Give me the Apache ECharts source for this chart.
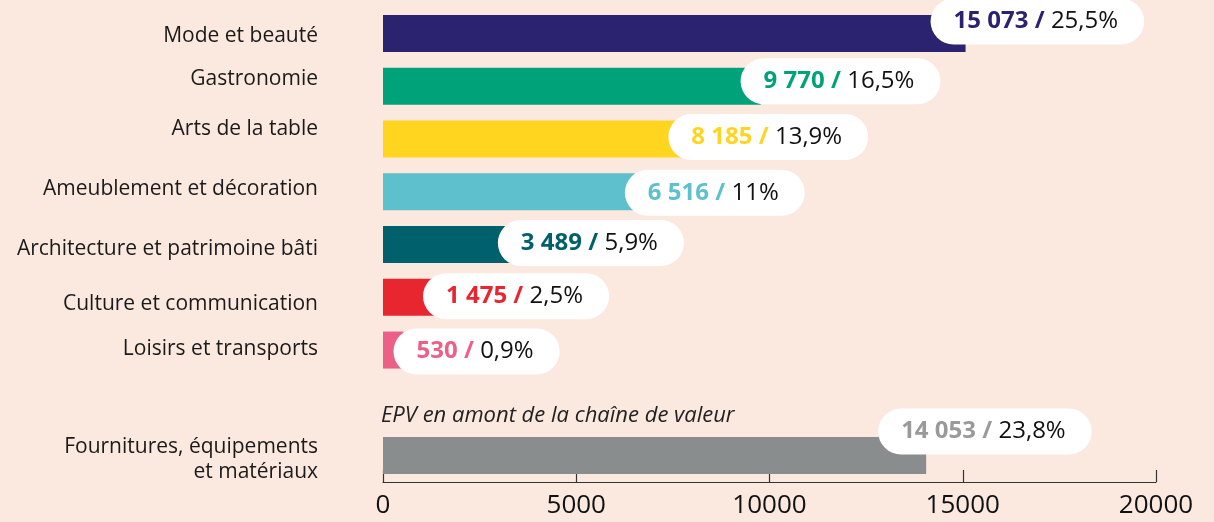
<!DOCTYPE html>
<html>
<head>
<meta charset="utf-8">
<script src="https://cdn.jsdelivr.net/npm/echarts@6/dist/echarts.min.js"></script>
<style>
html,body{margin:0;padding:0;background:#fbe9e0;}
#c{width:1214px;height:522px;}
</style>
</head>
<body>
<div id="c"></div>
<script>
// ---- data ----
var categories = ['Mode et beauté','Gastronomie','Arts de la table','Ameublement et décoration','Architecture et patrimoine bâti','Culture et communication','Loisirs et transports','','Fournitures, équipements\net matériaux'];
var values = [15073, 9770, 8185, 6516, 3489, 1475, 530, null, 14053];
var percents = ['25,5%','16,5%','13,9%','11%','5,9%','2,5%','0,9%','','23,8%'];
var xTicks = [0, 5000, 10000, 15000, 20000];
var noteText = 'EPV en amont de la chaîne de valeur';

// ---- styles ----
var barColors = ['#2b2270','#00a27a','#ffd520','#5dc0cc','#00606b','#e8262f','#ec5f87','#8a8d8d','#8a8d8d'];
var valueColors = ['#2b2270','#00a27a','#ffd520','#5dc0cc','#00606b','#e8262f','#ec5f87','#999999','#9a9a9a'];
var labelShift = [[-35,-12],[-20,-5],[-31,-2],[-10,1],[-20,-1.5],[-17,-1],[-10,1.5],[0,0],[-48,-24]];
var catShift = [3,-7,-10,-2.5,4.5,6.5,-1,0,3.5]; // negative = up

function fmt(n){ return String(n).replace(/\B(?=(\d{3})+(?!\d))/g,' '); }

var catRich = {};
catShift.forEach(function(d,i){
  catRich['c'+i] = {
    fontFamily:'Open Sans', fontSize:21, color:'#1a1a1a', lineHeight:25, align:'right',
    padding: d<0 ? [0,0,-2*d,0] : [2*d,0,0,0]
  };
});

var seriesData = values.map(function(v,i){
  if (v === null) return {value:null};
  return {
    value: v,
    itemStyle: {color: barColors[i]},
    label: {
      show: true,
      position: 'right',
      distance: 0,
      offset: labelShift[i],
      formatter: '{v' + i + '|' + fmt(v) + ' /} {p|' + percents[i] + '}',
      backgroundColor: '#ffffff',
      borderRadius: 23,
      padding: [11, 26, 11, 23],
      rich: (function(){ var r = {p:{fontFamily:'Open Sans',fontSize:24,color:'#111',lineHeight:24,padding:[0,0,0,3]}}; r['v'+i] = {fontFamily:'Open Sans',fontWeight:'bold',fontSize:24,color:valueColors[i],lineHeight:24}; return r; })()
    }
  };
});

var chart = echarts.init(document.getElementById('c'));
chart.setOption({
  backgroundColor: '#fbe9e0',
  animation: false,
  grid: {left: 383, right: 58, top: 7, bottom: 40, containLabel: false},
  xAxis: {
    type: 'value', min: xTicks[0], max: xTicks[xTicks.length-1], interval: xTicks[1]-xTicks[0],
    axisLine: {show: true, lineStyle: {color: '#333', width: 1.2}},
    axisTick: {show: true, inside: true, length: 12, lineStyle: {color: '#333', width: 1.2}},
    splitLine: {show: false},
    axisLabel: {fontFamily: 'Open Sans', fontSize: 26, color: '#111', margin: 11, formatter: function(v){ return String(v); }}
  },
  yAxis: {
    type: 'category', data: categories, inverse: true,
    axisLine: {show: false}, axisTick: {show: false},
    axisLabel: {
      margin: 65,
      formatter: function(val, idx){
        return val.split('\n').map(function(s){ return '{c'+idx+'|'+s+'}'; }).join('\n');
      },
      rich: catRich
    }
  },
  series: [{
    type: 'bar',
    barWidth: 37,
    data: seriesData,
    z: 2
  }],
  graphic: [{
    type: 'text', left: 381, top: 405,
    style: {text: noteText, fontFamily: 'Open Sans', fontStyle: 'italic', fontSize: 22, fill: '#222'}
  }]
});
</script>
</body>
</html>
